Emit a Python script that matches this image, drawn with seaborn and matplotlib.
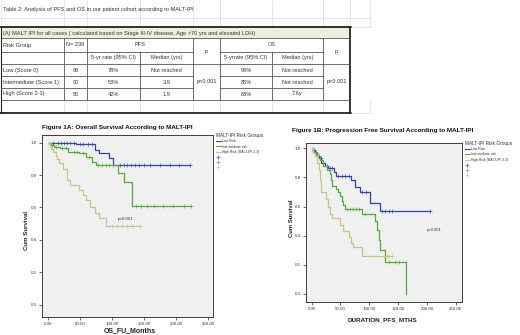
import numpy as np
import matplotlib
matplotlib.use("Agg")
import matplotlib.pyplot as plt
import seaborn as sns
from matplotlib.lines import Line2D

sns.set_theme(style="white")
plt.rcParams['font.family'] = ['Liberation Sans Narrow', 'Liberation Sans', 'DejaVu Sans']

# --- table data ---
table_title = "Table 2: Analysis of PFS and OS in our patient cohort according to MALT-IPI"
table_caption = "(A) MALT IPI for all cases ( calculated based on Stage III-IV disease, Age >70 yrs and elevated LDH)"
risk_groups = ["Low (Score 0)", "Intermediate (Score 1)", "High (Score 2-3)"]
n_cases = ["96", "90", "50"]
pfs_5yr = ["78%", "58%", "42%"]
pfs_median = ["Not reached", "3.9", "1.9"]
os_5yr = ["98%", "85%", "68%"]
os_median = ["Not reached", "Not reached", "7.6y"]
p_pfs = "p<0.001"
p_os = "p<0.001"

# --- Figure 1A: overall survival (months, cum survival) ---
os_low_t = [0, 44, 73, 79, 96, 101, 222]
os_low_s = [1.0, 0.99, 0.955, 0.935, 0.905, 0.865, 0.865]
os_low_c = [8, 15, 20, 25, 30, 35, 40, 50, 55, 62, 68, 112, 118, 124, 130, 136, 142, 150, 160, 175, 190, 205, 222]
os_int_t = [0, 4, 10, 18, 31, 49, 60, 68, 75, 109, 118, 131, 224]
os_int_s = [1.0, 0.985, 0.975, 0.965, 0.945, 0.935, 0.91, 0.88, 0.862, 0.81, 0.756, 0.612, 0.612]
os_int_c = [6, 12, 22, 28, 40, 46, 55, 64, 78, 84, 90, 96, 102, 138, 145, 155, 165, 180, 195, 212, 224]
os_high_t = [0, 3, 5, 8, 12, 14, 17, 23, 29, 34, 49, 55, 60, 65, 73, 80, 91, 143]
os_high_s = [1.0, 0.98, 0.96, 0.94, 0.92, 0.9, 0.877, 0.836, 0.77, 0.739, 0.708, 0.678, 0.647, 0.60, 0.565, 0.534, 0.483, 0.483]
os_high_c = [100, 108, 116, 124, 132, 143]

# --- Figure 1B: progression free survival ---
pfs_low_t = [0, 2, 6, 9, 13, 17, 23, 29, 38, 43, 69, 75, 84, 101, 118, 206]
pfs_low_s = [1.0, 0.985, 0.97, 0.95, 0.931, 0.897, 0.879, 0.863, 0.84, 0.81, 0.783, 0.737, 0.703, 0.622, 0.572, 0.572]
pfs_low_c = [4, 8, 12, 16, 20, 26, 32, 35, 46, 52, 58, 64, 88, 95, 122, 128, 134, 140, 206]
pfs_int_t = [0, 3, 9, 14, 20, 26, 31, 33, 35, 43, 46, 49, 52, 55, 58, 87, 110, 113, 116, 118, 127, 164]
pfs_int_s = [1.0, 0.975, 0.95, 0.92, 0.88, 0.85, 0.82, 0.78, 0.74, 0.72, 0.70, 0.67, 0.64, 0.61, 0.58, 0.55, 0.50, 0.44, 0.37, 0.30, 0.22, 0.0]
pfs_int_c = [62, 67, 72, 77, 82, 92, 135, 145, 152]
pfs_high_t = [0, 3, 6, 9, 12, 14.5, 17, 25, 29, 32, 35, 49, 54, 64, 69, 72, 87, 139]
pfs_high_s = [1.0, 0.97, 0.95, 0.9, 0.85, 0.78, 0.70, 0.65, 0.60, 0.55, 0.52, 0.47, 0.43, 0.39, 0.35, 0.32, 0.26, 0.26]
pfs_high_c = [130, 135, 139]

group_labels = ["Low Risk", "Intermediate risk", "High Risk (MALT-IPI 2-3)"]
colors = ["#2f44b4", "#4fae2e", "#cbc285"]
txt = "#333333"


def km(ax, t, s, cens, color):
    sns.lineplot(x=t, y=s, drawstyle="steps-post", color=color, lw=0.9,
                 estimator=None, sort=False, ax=ax)
    t = np.asarray(t)
    s = np.asarray(s)
    cy = s[np.searchsorted(t, cens, side="right") - 1]
    ax.plot(cens, cy, ls="none", marker="+", ms=2.6, mew=0.45, color=color)


def style_km(ax, xlim, ylim):
    ax.set_facecolor("#f0f0f0")
    ax.set_xlim(*xlim)
    ax.set_ylim(*ylim)
    ax.set_xticks([0, 50, 100, 150, 200, 250])
    ax.set_xticklabels([f"{v:.2f}" for v in [0, 50, 100, 150, 200, 250]])
    ax.set_yticks([0, 0.2, 0.4, 0.6, 0.8, 1.0])
    ax.set_yticklabels([f"{v:.1f}" for v in [0, 0.2, 0.4, 0.6, 0.8, 1.0]])
    ax.tick_params(axis="both", labelsize=3.2, length=2, width=0.5, pad=1.5,
                   direction="out", colors=txt, left=True, bottom=True)
    for sp in ax.spines.values():
        sp.set_color("#222222")
        sp.set_linewidth(0.6)
    ax.set_xlabel("")
    ax.set_ylabel("")


def km_legend(ax, anchor):
    handles = [Line2D([], [], color=c, lw=0.8) for c in colors]
    handles += [Line2D([], [], color=c, ls="none", marker="+", ms=2.6, mew=0.45) for c in colors]
    leg = ax.legend(handles, group_labels + ["", "", ""], title="MALT-IPI Risk Groups",
                    loc="upper left", bbox_to_anchor=anchor, frameon=False,
                    fontsize=2.4, title_fontsize=3.4, handlelength=1.4,
                    handletextpad=0.3, labelspacing=0.38, borderpad=0, borderaxespad=0)
    leg._legend_box.align = "left"
    leg.get_title().set_color(txt)
    for tx in leg.get_texts():
        tx.set_color(txt)


fig = plt.figure(figsize=(5.2, 3.35), dpi=100)

# --- table (pixel coordinates) ---
tab = fig.add_axes([0, 1 - 120 / 335, 372 / 520, 120 / 335])
tab.set_xlim(0, 372)
tab.set_ylim(120, 0)
tab.axis("off")

cols = [1, 64, 87, 140, 193, 220, 272, 323, 350]
rows = [26.7, 38.3, 52, 64.5, 76.5, 88, 100, 113]
faint = "#dcdcdc"
dark = "#555555"
for x in cols + [370]:
    tab.plot([x, x], [0, rows[0]], color=faint, lw=0.5)
    tab.plot([x, x], [rows[6], rows[7]], color=faint, lw=0.5)
tab.plot([0, 372], [18, 18], color=faint, lw=0.5)
tab.plot([350, 372], [rows[0], rows[0]], color=faint, lw=0.5)
tab.plot([350, 372], [rows[7], rows[7]], color=faint, lw=0.5)
tab.fill_between([1, 350], rows[0], rows[1], color="#efede0", lw=0)

tab.plot([0, 351], [rows[0], rows[0]], color="#222222", lw=1.3)
tab.plot([0, 351], [rows[7], rows[7]], color="#222222", lw=1.3)
tab.plot([1, 1], [rows[0], rows[7]], color="#222222", lw=0.8)
tab.plot([350, 350], [rows[0], rows[7]], color="#222222", lw=1.3)
for y in [rows[1], rows[3], rows[6]]:
    tab.plot([1, 350], [y, y], color=dark, lw=0.6)
for y in [rows[2], rows[4], rows[5]]:
    tab.plot([1, 193], [y, y], color=dark, lw=0.6)
    tab.plot([220, 323], [y, y], color=dark, lw=0.6)
for x in [64, 87, 193, 220, 323]:
    tab.plot([x, x], [rows[1], rows[6]], color=dark, lw=0.6)
for x in [140, 272]:
    tab.plot([x, x], [rows[2], rows[6]], color=dark, lw=0.6)

fs = 4.1
tab.text(3, 9, table_title, fontsize=fs, color=txt, va="center")
tab.text(3, 33, table_caption, fontsize=fs, color=txt, va="center")
tab.text(3, 45, "Risk Group", fontsize=fs, color=txt, va="center")
tab.text(75.5, 45, "N= 236", fontsize=fs, color=txt, va="center", ha="center")
tab.text(140, 45, "PFS", fontsize=fs, color=txt, va="center", ha="center")
tab.text(271.5, 45, "OS", fontsize=fs, color=txt, va="center", ha="center")
tab.text(113.5, 58, "5-yr rate (95% CI)", fontsize=fs, color=txt, va="center", ha="center")
tab.text(166.5, 58, "Median (yrs)", fontsize=fs, color=txt, va="center", ha="center")
tab.text(246, 58, "5-yrrate (95% CI)", fontsize=fs, color=txt, va="center", ha="center")
tab.text(297.5, 58, "Median (yrs)", fontsize=fs, color=txt, va="center", ha="center")
tab.text(206.5, 51.5, "p", fontsize=fs, color=txt, va="center", ha="center")
tab.text(336.5, 51.5, "p", fontsize=fs, color=txt, va="center", ha="center")
tab.text(206.5, 82, p_pfs, fontsize=fs, color=txt, va="center", ha="center")
tab.text(336.5, 82, p_os, fontsize=fs, color=txt, va="center", ha="center")
for i in range(3):
    yc = (rows[3 + i] + rows[4 + i]) / 2
    tab.text(3, yc, risk_groups[i], fontsize=fs, color=txt, va="center")
    tab.text(75.5, yc, n_cases[i], fontsize=fs, color=txt, va="center", ha="center")
    tab.text(113.5, yc, pfs_5yr[i], fontsize=fs, color=txt, va="center", ha="center")
    tab.text(166.5, yc, pfs_median[i], fontsize=fs, color=txt, va="center", ha="center")
    tab.text(246, yc, os_5yr[i], fontsize=fs, color=txt, va="center", ha="center")
    tab.text(297.5, yc, os_median[i], fontsize=fs, color=txt, va="center", ha="center")

# --- Figure 1A ---
ax1 = fig.add_axes([42 / 520, 1 - 317 / 335, 171 / 520, 182 / 335])
for t, s, c, col in [(os_low_t, os_low_s, os_low_c, colors[0]),
                     (os_int_t, os_int_s, os_int_c, colors[1]),
                     (os_high_t, os_high_s, os_high_c, colors[2])]:
    km(ax1, t, s, c, col)
style_km(ax1, (-9.4, 257.8), (-0.076, 1.0475))
ax1.text(109, 0.525, "p<0.001", fontsize=3.2, color=txt)
km_legend(ax1, (1.018, 1.011))
fig.text(42 / 520, 1 - 127 / 335, "Figure 1A: Overall Survival According to MALT-IPI",
         fontsize=4.6, fontweight="bold", color="#111111", va="center",
         family=["Liberation Sans", "DejaVu Sans"])
fig.text(130 / 520, 1 - 331 / 335, "OS_FU_Months", fontsize=5, fontweight="bold",
         color="#222222", ha="center", va="center", family=["Liberation Sans", "DejaVu Sans"])
fig.text(27 / 520, 1 - 230 / 335, "Cum Survival", fontsize=4.4, fontweight="bold",
         color="#222222", ha="center", va="center", rotation=90,
         family=["Liberation Sans", "DejaVu Sans"])

# --- Figure 1B ---
ax2 = fig.add_axes([306 / 520, 1 - 302 / 335, 156 / 520, 159 / 335])
for t, s, c, col in [(pfs_low_t, pfs_low_s, pfs_low_c, colors[0]),
                     (pfs_int_t, pfs_int_s, pfs_int_c, colors[1]),
                     (pfs_high_t, pfs_high_s, pfs_high_c, colors[2])]:
    km(ax2, t, s, c, col)
style_km(ax2, (-9.9, 261), (-0.055, 1.036))
ax2.text(199, 0.44, "p<0.001", fontsize=3.0, color=txt, va="center")
km_legend(ax2, (1.019, 1.013))
fig.text(292 / 520, 1 - 131 / 335, "Figure 1B: Progression Free Survival According to MALT-IPI",
         fontsize=4.6, fontweight="bold", color="#111111", va="center",
         family=["Liberation Sans", "DejaVu Sans"])
fig.text(383 / 520, 1 - 320 / 335, "DURATION_PFS_MTHS", fontsize=4.6, fontweight="bold",
         color="#222222", ha="center", va="center", family=["Liberation Sans", "DejaVu Sans"])
fig.text(291.7 / 520, 1 - 218 / 335, "Cum Survival", fontsize=4.2, fontweight="bold",
         color="#222222", ha="center", va="center", rotation=90,
         family=["Liberation Sans", "DejaVu Sans"])

fig.savefig("out.png", dpi=100, facecolor="white")
